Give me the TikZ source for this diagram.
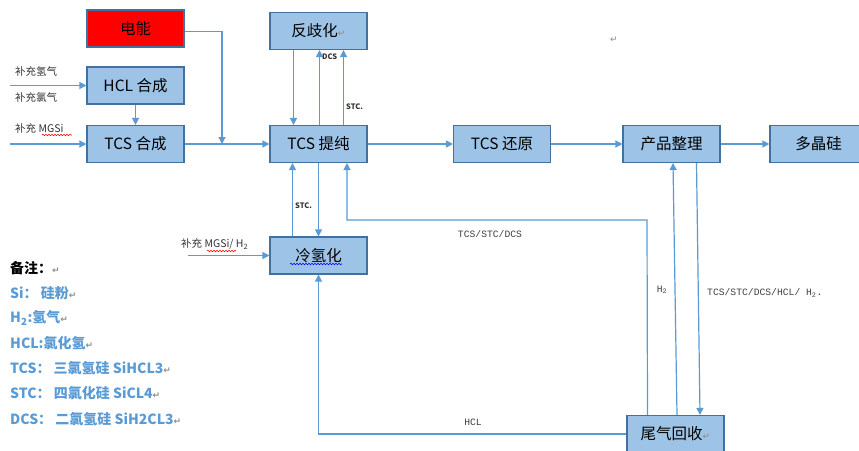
\documentclass[tikz,border=0pt]{standalone}
\usepackage{fontspec}
\setmainfont{Noto Sans CJK SC}
\newfontfamily\monofont{Liberation Mono}
\newfontfamily\symfont{DejaVu Sans}
\usetikzlibrary{arrows.meta, decorations.pathmorphing}
\definecolor{boxfill}{HTML}{9DC3E6}
\definecolor{boxline}{HTML}{41719C}
\definecolor{flowline}{HTML}{5B9BD5}
\definecolor{notecol}{HTML}{5B9BD5}
\newcommand{\retmark}{{\symfont\color{black!45}\fontsize{9}{9}\selectfont ↵}}

\begin{document}
\begin{tikzpicture}[x=1pt, y=-1pt,
    procbox/.style={draw=boxline, line width=1.1pt, fill=boxfill, minimum width=97pt,
      minimum height=37pt, inner sep=0pt, font=\fontsize{15.5}{17}\selectfont},
    flow/.style={draw=flowline, line width=1.2pt, -{Triangle[length=7pt, width=7pt]}},
    feedlabel/.style={anchor=west, inner sep=0pt, font=\fontsize{10.5}{12}\selectfont, text=black!80},
    tinylabel/.style={anchor=west, inner sep=0pt, font=\bfseries\fontsize{7.5}{9}\selectfont, text=black!80},
    monolabel/.style={inner sep=0pt, font=\monofont\fontsize{9.7}{11}\selectfont, text=black!75},
    notetext/.style={anchor=west, inner sep=0pt, text=notecol, font=\bfseries\fontsize{14}{16}\selectfont},
    spellwave/.style={decorate, decoration={snake, amplitude=0.7pt, segment length=3pt}, line width=0.6pt}
  ]

    \clip (0,0) rectangle (859,450);
    \fill[white] (0,0) rectangle (859,450);

    % Process boxes
    \node[procbox, fill=red] (power) at (135.5,28.5) {电能};
    \node[procbox] (disprop) at (318.5,31) {反歧化\retmark};
    \node[procbox] (hclsyn) at (135.5,85.5) {HCL 合成};
    \node[procbox] (tcssyn) at (135.5,144) {TCS 合成};
    \node[procbox] (purify) at (318.5,144) {TCS 提纯};
    \node[procbox] (reduce) at (502,144) {TCS 还原};
    \node[procbox] (finish) at (671.5,144) {产品整理};
    \node[procbox] (polysi) at (818.5,144) {多晶硅};
    \node[procbox] (coldhyd) at (318.5,255.5) {冷氢化};
    \node[procbox] (tailgas) at (675.5,434) {尾气回收\retmark};

    % Free ends of the feed lines
    \coordinate (feedgas) at (10,85.5);
    \coordinate (feedsi) at (10,144);
    \coordinate (feedcold) at (188,255.5);
    \coordinate (powerjoin) at (222,144);

    % Feeds on the left
    \draw[flow] (feedgas) -- (hclsyn.west);
    \draw[flow] (feedsi) -- (tcssyn.west);
    \draw[flow] (hclsyn.south) -- (tcssyn.north);
    \draw[flow] ([yshift=-3pt]power.east) -| (powerjoin);
    \node[feedlabel] (lbh) at (15,71) {补充氢气};
    \node[feedlabel] (lbcl) at (15,97) {补充氯气};
    \node[feedlabel] (lbsi) at (15,128) {补充 MGSi};
    \draw[red, spellwave] (42,135) -- (72,135);

    % Main line
    \draw[flow] (tcssyn.east) -- (purify.west);
    \draw[flow] (purify.east) -- (reduce.west);
    \draw[flow] (reduce.east) -- (finish.west);
    \draw[flow] (finish.east) -- (polysi.west);

    % Purification and redistribution
    \draw[flow] ([xshift=-25pt]disprop.south) -- ([xshift=-25pt]purify.north);
    \draw[flow] ([xshift=1pt]purify.north) -- ([xshift=1pt]disprop.south);
    \draw[flow] ([xshift=25pt]purify.north) -- ([xshift=25pt]disprop.south);
    \node[tinylabel] (ldcs) at (322,57) {DCS};
    \node[tinylabel] (lstc) at (346,107) {STC.};

    % Purification and cold hydrogenation
    \draw[flow] ([xshift=-26pt]coldhyd.north) -- ([xshift=-26pt]purify.south);
    \draw[flow] (purify.south) -- (coldhyd.north);
    \node[tinylabel] (lstcb) at (295,206) {STC.};
    \draw[flow] (feedcold) -- (coldhyd.west);
    \node[feedlabel] (lbcold) at (181,244) {补充 MGSi/ H\textsubscript{2}};
    \draw[red, spellwave] (207,251) -- (236,251);
    \draw[blue, spellwave] (290,264) -- (342,264);

    % Returns from tail gas recovery
    \coordinate (loopcorner) at (647,220);
    \draw[flow] ([xshift=-28pt]tailgas.north) -- (loopcorner) -- (347,220) -- ([xshift=28.5pt]purify.south);
    \node[monolabel] (lret) at (490,234) {TCS/STC/DCS};
    \draw[flow] ([xshift=1.5pt]tailgas.north) -- ([xshift=1.5pt]finish.south);
    \draw[flow] ([xshift=25pt]finish.south) -- ([xshift=24.5pt]tailgas.north);
    \node[monolabel] (lh2) at (662,290) {H\textsubscript{2}};
    \node[monolabel, anchor=west] (lmix) at (707,293) {TCS/STC/DCS/HCL/ H\textsubscript{2}.};
    \draw[flow] (tailgas.west) -| (coldhyd.south);
    \node[monolabel] (lhcl) at (473,422) {HCL};

    % Stray mark
    \node (stray) at (614,40) {\retmark};

    % Notes
    \node[notetext, text=black] (n0) at (10,268) {备注：\retmark};
    \node[notetext] (n1) at (10,293) {Si： 硅粉\retmark};
    \node[notetext] (n2) at (10,318) {H\textsubscript{2}:氢气\retmark};
    \node[notetext] (n3) at (10,343) {HCL:氯化氢\retmark};
    \node[notetext] (n4) at (10,368) {TCS： 三氯氢硅 SiHCL3\retmark};
    \node[notetext] (n5) at (10,393) {STC： 四氯化硅 SiCL4\retmark};
    \node[notetext] (n6) at (10,419) {DCS： 二氯氢硅 SiH2CL3\retmark};
\end{tikzpicture}
\end{document}
